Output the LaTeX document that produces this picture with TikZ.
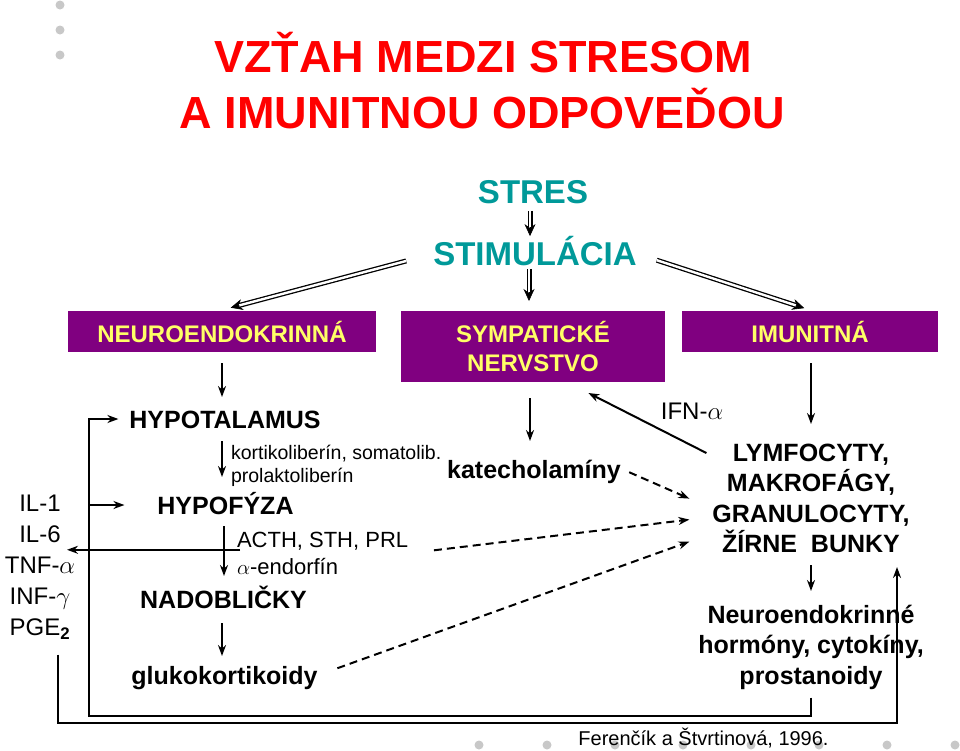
\documentclass[tikz,border=0pt]{standalone}
\usepackage{fontspec}
\setmainfont{Liberation Sans}
\usetikzlibrary{arrows.meta}
\definecolor{titlered}{RGB}{255,0,0}
\definecolor{stimteal}{RGB}{0,153,153}
\definecolor{branchpurple}{RGB}{128,0,128}
\definecolor{branchyellow}{RGB}{255,255,102}
\definecolor{dotgrey}{RGB}{200,200,200}
\tikzset{
  headline/.style={text=titlered,font=\bfseries\fontsize{45}{54}\selectfont,inner sep=0pt,text height=32.4pt,text depth=0pt},
  stim/.style={text=stimteal,font=\bfseries\fontsize{33}{40}\selectfont,inner sep=0pt,text height=23.8pt,text depth=0pt},
  branch/.style={fill=branchpurple,text=branchyellow,font=\bfseries\fontsize{24}{29}\selectfont,align=center},
  organ/.style={font=\bfseries\fontsize{25}{31}\selectfont,inner sep=0pt,text height=18pt,text depth=0pt},
  immune/.style={font=\bfseries\fontsize{25}{30.5}\selectfont,inner sep=0pt,align=center,anchor=north},
  horm/.style={font=\fontsize{19.5}{23}\selectfont,inner sep=0pt,align=left,anchor=north west},
  cyto/.style={font=\fontsize{24}{31}\selectfont,inner sep=0pt,align=center},
  dbl/.style={line width=0.6pt,-{Stealth[length=12pt,width=11pt]},
    postaction={draw,-,double,double distance=2.4pt,line width=1.3pt,shorten >=#1}},
  dsh/.style={->,dash pattern=on 8pt off 5pt,line width=2pt},
  loop/.style={line width=2.6pt}
}
\begin{document}
\begin{tikzpicture}[x=1pt,y=-1pt,>={Stealth[length=11pt,width=8pt]},line width=2pt]
\useasboundingbox (0,0) rectangle (960,750);
% decoration dots
\foreach \y in {5,30,55} \fill[dotgrey] (60,\y) circle (4.5);
\foreach \x in {479,547,615,683,751,819,887,955} \fill[dotgrey] (\x,745) circle (4.5);
% title
\node[headline] (title1) at (483,56.5) {VZŤAH MEDZI STRESOM};
\node[headline] (title2) at (482.5,112.5) {A IMUNITNOU ODPOVEĎOU};
% stress
\node[stim] (stres) at (533,192) {STRES};
\node[stim] (stimul) at (535,254) {STIMULÁCIA};
\node[branch,minimum width=308,minimum height=41] (neuro) at (222,331.5) {NEUROENDOKRINNÁ};
\node[branch,minimum width=264,minimum height=71] (symp) at (533,346.5) {SYMPATICKÉ\\NERVSTVO};
\node[branch,minimum width=256,minimum height=41] (imun) at (810,331.5) {IMUNITNÁ};
\draw[dbl=14,shorten <=6,shorten >=5]([xshift=-3pt]stres.south)--([xshift=-5pt]stimul.north);
\draw[dbl=18,shorten <=2,shorten >=9]([xshift=-4pt]stimul.south -| symp.north)--([xshift=-4pt]symp.north);
\draw[dbl=18,shorten <=27,shorten >=9](stimul.west)--(neuro.north);
\draw[dbl=15,shorten <=20,shorten >=6](stimul.east)--(imun.north);
% neuroendocrine axis
\node[organ] (hypot) at (225,419) {HYPOTALAMUS};
\node[horm] (liber) at (230,444) {kortikoliberín, somatolib.\\prolaktoliberín};
\node[organ] (hypof) at (225.5,505) {HYPOFÝZA};
\node[horm,font=\fontsize{22}{27}\selectfont] (acth) at (236,531) {ACTH, STH, PRL\\$\alpha$-endorfín};
\node[organ] (nadob) at (223.5,599) {NADOBLIČKY};
\node[organ] (gluko) at (224.5,675) {glukokortikoidy};
\draw[->,shorten <=10,shorten >=12](neuro.south)--(neuro.south |- hypot.north);
\draw[->,shorten <=12,shorten >=18]([xshift=-3pt]hypot.south)--([xshift=-3pt]hypot.south |- hypof.north);
\draw[->,shorten <=11,shorten >=13]([xshift=-1.5pt]hypof.south)--([xshift=-1.5pt]hypof.south |- nadob.north);
\draw[->,shorten <=14,shorten >=9]([xshift=-1.5pt]nadob.south)--([xshift=-1.5pt]nadob.south |- gluko.north);
% cytokines
\node[cyto,anchor=north] (cyto) at (40,494.4) {IL-1\\IL-6\\TNF-$\alpha$\\INF-$\gamma$\\PGE\textsubscript{\textbf{2}}};
\draw[->]([shift={(4pt,3.5pt)}]acth.west)--++(-173,0);
% sympathetic
\node[organ] (katech) at (534,469) {katecholamíny};
% immune
\node[immune] (lymf) at (811,443) {LYMFOCYTY,\\MAKROFÁGY,\\GRANULOCYTY,\\ŽÍRNE\ \ BUNKY};
\node[immune] (nhorm) at (811,604) {Neuroendokrinné\\hormóny, cytokíny,\\prostanoidy};
\node[cyto] (ifn) at (692,411) {IFN-$\alpha$};
\draw[->,shorten <=15,shorten >=18]([xshift=-3pt]symp.south)--([xshift=-4pt]katech.north);
\draw[->,shorten <=10,shorten >=19]([xshift=1pt]imun.south)--([xshift=1pt]imun.south |- lymf.north);
\draw[->,shorten <=11,shorten >=13](lymf.south)--(nhorm.north);
\draw[->]([shift={(-5pt,-10pt)}]lymf.north west)--++(-118,-60);
% effects on immune cells
\draw[dsh,shorten <=8](katech.east)--([xshift=-22pt]lymf.west);
\draw[dsh,shorten <=25](acth.east)--([shift={(-22pt,-21pt)}]lymf.west);
\draw[dsh,shorten <=20](gluko.east)--([shift={(-22pt,-43pt)}]lymf.west);
% feedback loops
\coordinate (loopA) at (89,716);
\coordinate (loopB) at (58,723);
\coordinate (loopC) at (897,723);
\draw[loop,->,shorten >=10]([yshift=-7pt]nhorm.south)|-(loopA)|-(hypot.west);
\draw[->,shorten >=32](loopA |- hypof.west)--(hypof.west);
\draw[loop,->](loopB |- cyto.south)++(0,14)|-(loopC)--++(0,-156);
\node[cyto,font=\fontsize{20}{24}\selectfont] (cite) at (703.5,738) {Ferenčík a Štvrtinová, 1996.};
\end{tikzpicture}
\end{document}
